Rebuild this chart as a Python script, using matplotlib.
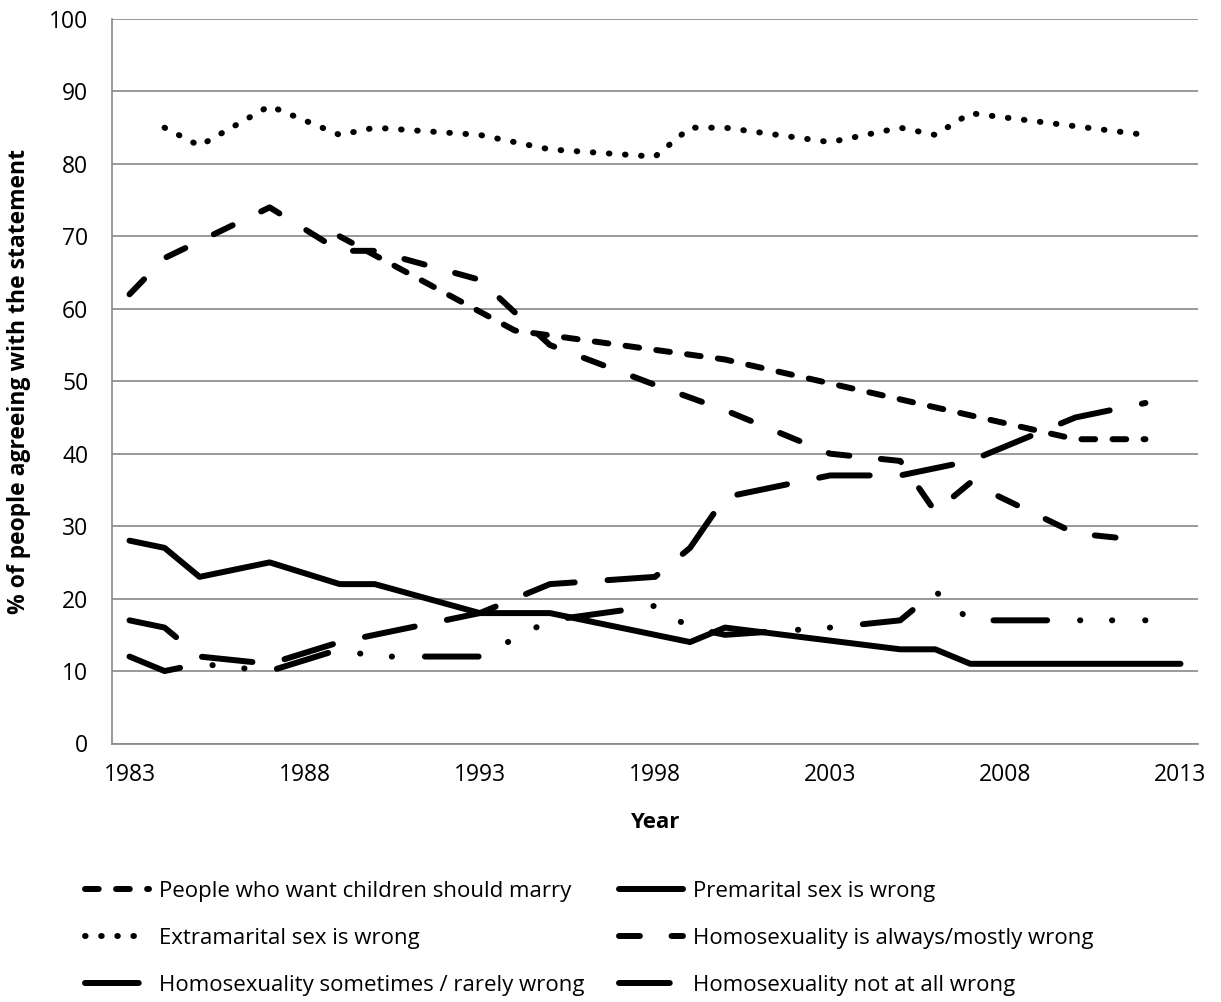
import matplotlib.pyplot as plt

plt.rcParams['font.family'] = ['Open Sans', 'DejaVu Sans']

# % agreeing with each statement, by survey year
marry_years = [1989, 1994, 2000, 2010, 2012]
marry_vals = [70, 57, 53, 42, 42]

premarital_years = [1983, 1984, 1985, 1987, 1989, 1990, 1993, 1995, 1999, 2000, 2005, 2006, 2007, 2013]
premarital_vals = [28, 27, 23, 25, 22, 22, 18, 18, 14, 16, 13, 13, 11, 11]

extramarital_years = [1984, 1985, 1987, 1989, 1990, 1993, 1994, 1995, 1998, 1999, 2000, 2003, 2004,
                      2005, 2006, 2007, 2012]
extramarital_vals = [85, 82.5, 88, 84, 85, 84, 83, 82, 81, 85, 85, 83, 84, 85, 84, 87, 84]

always_years = [1983, 1984, 1987, 1989, 1990, 1993, 1995, 1998, 2000, 2003, 2005, 2006, 2007, 2010, 2012]
always_vals = [62, 67, 74, 68, 68, 64, 55, 49.5, 46, 40, 39, 32, 36, 29, 28]

sometimes_years = [1983, 1984, 1985, 1987, 1989, 1990, 1993, 1995, 1998, 1999, 2000, 2003, 2005, 2006,
                   2007, 2012]
sometimes_vals = [12, 10, 11, 10, 13, 12, 12, 17, 19, 16, 15, 16, 17, 21, 17, 17]

notatall_years = [1983, 1984, 1985, 1987, 1989, 1990, 1993, 1995, 1998, 1999, 2000, 2003, 2005, 2007,
                  2010, 2012]
notatall_vals = [17, 16, 12, 11, 14, 15, 18, 22, 23, 27, 34, 37, 37, 39, 45, 47]

labels = ['People who want children should marry', 'Premarital sex is wrong',
          'Extramarital sex is wrong', 'Homosexuality is always/mostly wrong',
          'Homosexuality sometimes / rarely wrong', 'Homosexuality not at all wrong']

x_ticks = [1983, 1988, 1993, 1998, 2003, 2008, 2013]

W, H = 1221, 1002
fig = plt.figure(figsize=(W / 100, H / 100), dpi=100)
left, right, top, bottom = 112, 1198, 19, 743.5
ax = fig.add_axes([left / W, 1 - bottom / H, (right - left) / W, (bottom - top) / H])

lw = 4.3
style = dict(color='black', lw=lw, dash_capstyle='round', solid_capstyle='round',
             dash_joinstyle='round', solid_joinstyle='round')

# dash patterns in units of line width
l_marry, = ax.plot(marry_years, marry_vals, dashes=(2.3, 2.9), label=labels[0], **style)
l_pre, = ax.plot(premarital_years, premarital_vals, label=labels[1], **style)
l_extra, = ax.plot(extramarital_years, extramarital_vals, dashes=(0.1, 2.6), label=labels[2], **style)
l_always, = ax.plot(always_years, always_vals, dashes=(3.5, 5.3), label=labels[3], **style)
l_some, = ax.plot(sometimes_years, sometimes_vals, dashes=(9, 5.5, 0.05, 5.3, 0.05, 5.5),
                  label=labels[4], **style)
l_not, = ax.plot(notatall_years, notatall_vals, dashes=(8.5, 5.5), label=labels[5], **style)

ax.set_xlim(1982.5, 2013.5)
ax.set_ylim(0, 100)
ax.set_xticks(x_ticks)
ax.set_yticks(range(0, 101, 10))
ax.grid(axis='y', color='#888888', lw=1.2)
ax.set_axisbelow(True)
for s in ['top', 'right']:
    ax.spines[s].set_visible(False)
for s in ['left', 'bottom']:
    ax.spines[s].set_color('#888888')
    ax.spines[s].set_linewidth(1.2)
ax.tick_params(length=0, labelsize=16.5)
ax.tick_params(axis='y', pad=17)
ax.tick_params(axis='x', pad=14)

ax.set_xlabel('Year', fontsize=16, fontweight='bold')
ax.xaxis.set_label_coords(0.5, -0.095)
ax.set_ylabel('% of people agreeing with the statement', fontsize=16.5, fontweight='bold')
ax.yaxis.set_label_coords(-0.0745, 0.5)

handles = [l_marry, l_extra, l_some, l_pre, l_always, l_not]
fig.legend(handles, [h.get_label() for h in handles], ncol=2, frameon=False,
           loc='upper left', bbox_to_anchor=(85 / W, 1 - 881 / H), fontsize=16,
           handlelength=2.9, handletextpad=0.45, columnspacing=1.52, labelspacing=1.16,
           borderpad=0, borderaxespad=0)

fig.savefig('out.png', dpi=100, facecolor='white')
